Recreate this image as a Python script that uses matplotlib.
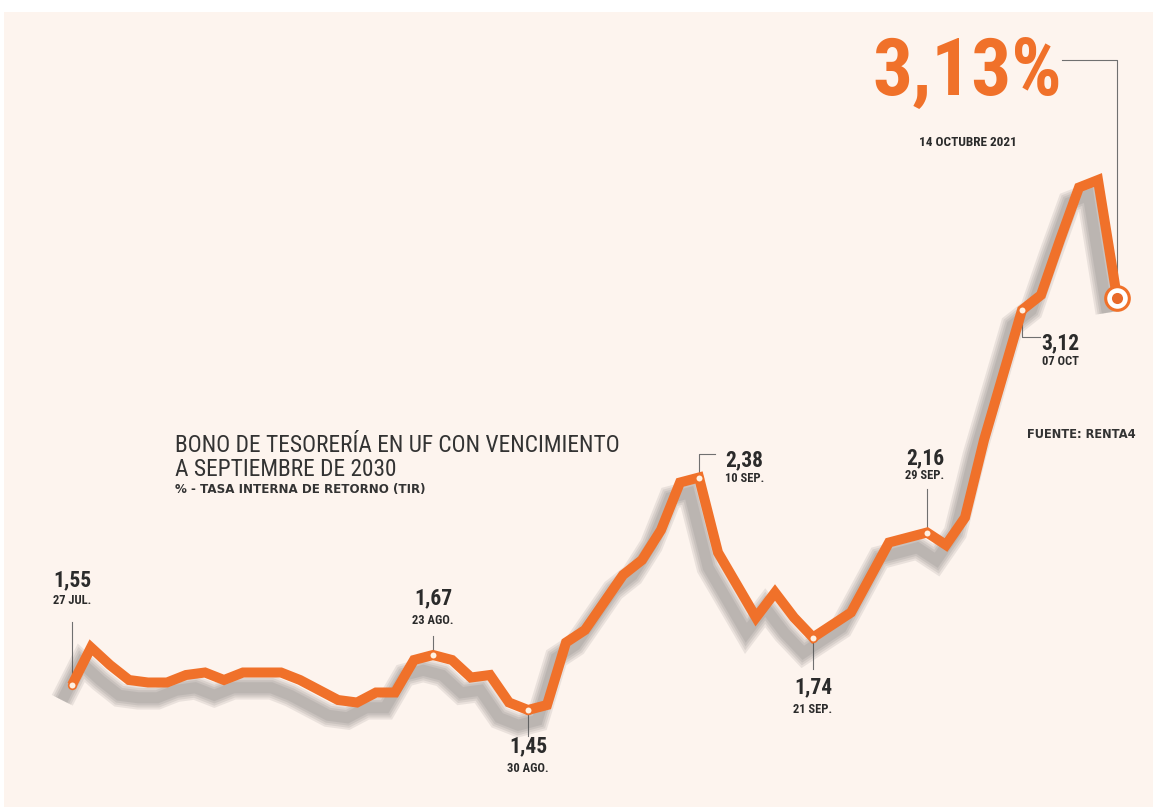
import matplotlib
matplotlib.use("Agg")
import matplotlib.pyplot as plt
import matplotlib.patheffects as pe
from matplotlib.patches import Rectangle

# TIR del bono BTU a sept. 2030, un punto por dia habil (27 jul -> 14 oct 2021)
tir = [1.55, 1.70, 1.63, 1.57, 1.56, 1.56, 1.59, 1.60, 1.57, 1.60,
       1.60, 1.60, 1.57, 1.53, 1.49, 1.48, 1.52, 1.52, 1.65, 1.67,
       1.65, 1.58, 1.59, 1.48, 1.45, 1.47, 1.72, 1.77, 1.88, 1.99,
       2.05, 2.17, 2.36, 2.38, 2.08, 1.95, 1.82, 1.92, 1.82, 1.74,
       1.79, 1.84, 1.98, 2.12, 2.14, 2.16, 2.11, 2.22, 2.53, 2.79,
       3.05, 3.11, 3.33, 3.54, 3.57, 3.10]
dias = list(range(len(tir)))

# puntos destacados: indice, valor, fecha
hitos_idx = [0, 19, 24, 33, 39, 45, 50]
hitos_val = ["1,55", "1,67", "1,45", "2,38", "1,74", "2,16", "3,12"]
hitos_fecha = ["27 JUL.", "23 AGO.", "30 AGO.", "10 SEP.", "21 SEP.", "29 SEP.", "07 OCT"]

ultimo_val = "3,13%"
ultima_fecha = "14 OCTUBRE 2021"

naranja = "#F0712A"
gris = "#707070"
crema = "#FDF4EE"
tinta = "#2b2b2b"
narrow = ["Roboto Condensed", "Liberation Sans Narrow", "Roboto", "DejaVu Sans"]

fig = plt.figure(figsize=(11.53, 8.07), dpi=100)
fig.patch.set_facecolor("white")
fig.patches.append(Rectangle((4 / 1153, 0), 1, (807 - 12) / 807,
                             transform=fig.transFigure, facecolor=crema,
                             edgecolor="none", zorder=-5))

ax = fig.add_axes([0, 0, 1, 1])
ax.set_facecolor("none")
ax.set_xlim(-72 / 19, (1153 - 72) / 19)
ax.set_ylim(1.45 - 97 / 250, 1.45 + 710 / 250)
ax.axis("off")

# sombra difusa + linea principal
sombra = [pe.SimpleLineShadow(offset=(-7, -11), shadow_color="#505050",
                              alpha=0.11, linewidth=w) for w in (17, 14, 11, 8)]
ax.plot(dias, tir, color=naranja, lw=7.2, solid_joinstyle="miter",
        solid_capstyle="butt", zorder=3,
        path_effects=sombra + [pe.Normal()])

# puntos destacados
ax.plot([dias[i] for i in hitos_idx], [tir[i] for i in hitos_idx], "o",
        ms=5.5, mfc="#FFF1E2", mec=naranja, mew=1.2, zorder=5)
ax.plot(dias[-1], tir[-1], "o", ms=17, mfc="white", mec=naranja, mew=2.2, zorder=5)
ax.plot(dias[-1], tir[-1], "o", ms=8, mfc="#E86A2A", mec="none", zorder=6)

# posiciones de etiquetas en pixeles respecto al punto:
# (dx, dy valor), (dx, dy fecha), trazo del conector, alineacion
offs = [
    ((0, 105), (0, 84), [(0, 0), (0, 63)], "center"),
    ((0, 57), (0, 35), [(0, 0), (0, 19)], "center"),
    ((0, -36), (0, -58), [(0, 0), (0, -26)], "center"),
    ((26, 17), (26, -1), [(0, 0), (0, 24), (16, 24)], "left"),
    ((0, -50), (0, -72), [(0, 0), (0, -31)], "center"),
    ((-2, 74), (-2, 57), [(0, 0), (0, 44)], "center"),
    ((38, -33), (38, -51), [(0, 0), (0, -27), (18, -27)], "center"),
]

inv = ax.transData.inverted()
for i, val, fecha, (ov, of, trazo, ha) in zip(hitos_idx, hitos_val, hitos_fecha, offs):
    x, y = dias[i], tir[i]
    ax.annotate(val, (x, y), xytext=ov, textcoords="offset pixels",
                ha=ha, va="center", fontsize=15.5, fontweight="bold",
                family=narrow, color=tinta, zorder=7)
    ax.annotate(fecha, (x, y), xytext=of, textcoords="offset pixels",
                ha=ha, va="center", fontsize=9, fontweight="semibold",
                family=narrow, color=tinta, zorder=7)
    # conector en pixeles
    px, py = ax.transData.transform((x, y))
    pts = [inv.transform((px + dx, py + dy)) for dx, dy in trazo]
    ax.plot([p[0] for p in pts], [p[1] for p in pts], color=gris, lw=0.8, zorder=2)

# valor final destacado
px, py = ax.transData.transform((dias[-1], tir[-1]))
pts = [inv.transform(p) for p in [(px, py + 8), (px, py + 238), (px - 55, py + 238)]]
ax.plot([p[0] for p in pts], [p[1] for p in pts], color=gris, lw=0.8, zorder=2)
ax.annotate(ultimo_val, (dias[-1], tir[-1]), xytext=(-150, 224),
            textcoords="offset pixels", ha="center", va="center",
            fontsize=57, fontweight="bold", family=narrow, color=naranja)
ax.annotate(ultima_fecha, (dias[-1], tir[-1]), xytext=(-149, 155),
            textcoords="offset pixels", ha="center", va="center",
            fontsize=9.5, fontweight="semibold", family=narrow, color=tinta)

# titulos y fuente
fig.text(175 / 1153, 1 - 446 / 807, "BONO DE TESORERÍA EN UF CON VENCIMIENTO",
         fontsize=16.8, family=narrow, color="#333333", va="center")
fig.text(175 / 1153, 1 - 469 / 807, "A SEPTIEMBRE DE 2030",
         fontsize=16.8, family=narrow, color="#333333", va="center")
fig.text(175 / 1153, 1 - 490 / 807, "% - TASA INTERNA DE RETORNO (TIR)",
         fontsize=8.6, fontweight="bold", family="DejaVu Sans", color="#333333",
         va="center")
fig.text(1027 / 1153, 1 - 434 / 807, "FUENTE: RENTA4",
         fontsize=8.3, fontweight="bold", family="DejaVu Sans", color="#333333",
         va="center")

fig.savefig("out.png", dpi=100, facecolor=fig.get_facecolor())
